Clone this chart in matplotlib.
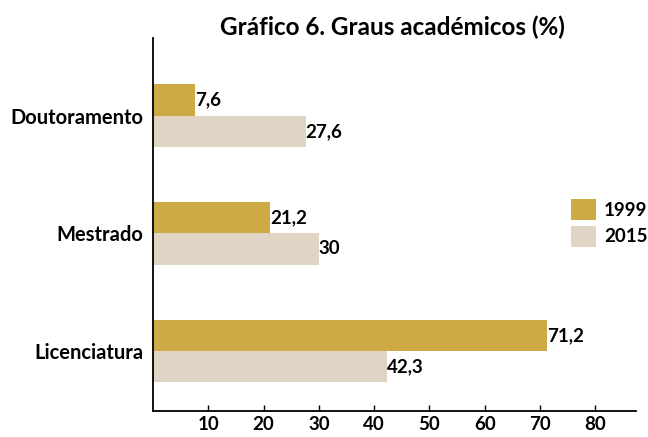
import matplotlib
matplotlib.use("Agg")
import matplotlib.pyplot as plt
import numpy as np

categories = ["Licenciatura", "Mestrado", "Doutoramento"]
values_1999 = [71.2, 21.2, 7.6]
values_2015 = [42.3, 30, 27.6]
labels_1999 = ["71,2", "21,2", "7,6"]
labels_2015 = ["42,3", "30", "27,6"]
xticks = [10, 20, 30, 40, 50, 60, 70, 80]
series_names = ["1999", "2015"]

plt.rcParams['font.family'] = ['Lato', 'DejaVu Sans']
c1999 = "#CDAA45"
c2015 = "#E0D4C4"
fs = 14.5
fsn = 13.5

fig = plt.figure(figsize=(6.48, 4.37), dpi=100)
ax = fig.add_axes([0.236, 0.0595, 0.745, 0.8535])

y = np.arange(len(categories))
h = 0.265
ax.barh(y + h/2, values_1999, height=h, color=c1999, label=series_names[0])
ax.barh(y - h/2, values_2015, height=h, color=c2015, label=series_names[1])

for yi, v, t in zip(y + h/2, values_1999, labels_1999):
    ax.text(v, yi, t, ha="left", va="center", fontsize=fsn, fontweight="bold")
for yi, v, t in zip(y - h/2, values_2015, labels_2015):
    ax.text(v, yi, t, ha="left", va="center", fontsize=fsn, fontweight="bold")

ax.set_xlim(0, 87.3)
ax.set_ylim(-0.51, 2.66)
ax.set_yticks(y)
ax.set_yticklabels(categories, fontsize=fs, fontweight="bold")
ax.set_xticks(xticks)
ax.set_xticklabels([str(t) for t in xticks], fontsize=fsn, fontweight="bold")
ax.tick_params(axis="y", length=0, pad=7)
ax.tick_params(axis="x", direction="in", length=4, width=1, pad=3.5)
for s in ["top", "right"]:
    ax.spines[s].set_visible(False)
ax.spines["left"].set_linewidth(1.3)
ax.spines["bottom"].set_linewidth(1.3)

fig.text(0.605, 1 - 27/437, "Gráfico 6. Graus académicos (%)", fontsize=17.5,
         fontweight="bold", ha="center", va="center")

leg = ax.legend(loc="upper left", bbox_to_anchor=(571/648, 1 - 199/437),
                bbox_transform=fig.transFigure, frameon=False, borderpad=0,
                borderaxespad=0, prop={"size": fsn, "weight": "bold"},
                handlelength=1.35, handleheight=1.35, handletextpad=0.4,
                labelspacing=0.3)

fig.savefig("out.png", dpi=100)
